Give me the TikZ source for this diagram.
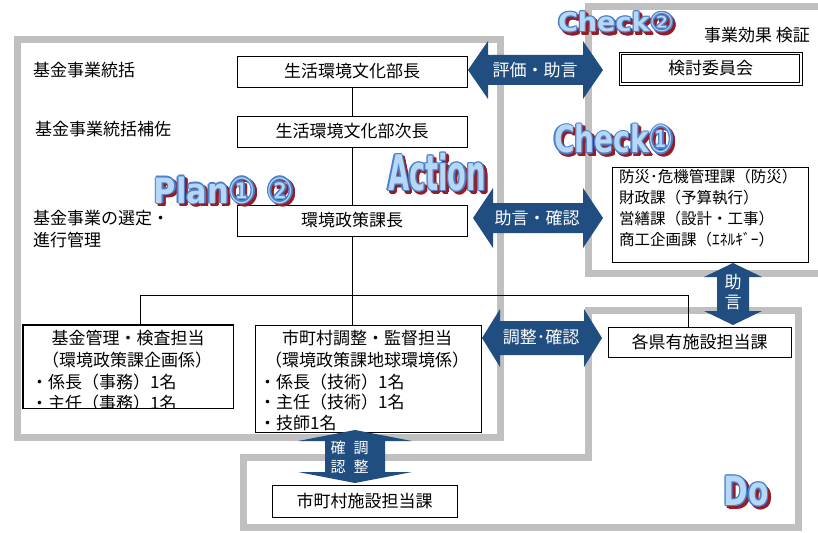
\documentclass[tikz,border=0pt]{standalone}
\usepackage{fontspec}
\usepackage{graphicx}
\setmainfont{Noto Sans CJK JP}
\newfontfamily\waf{DejaVu Sans}
\definecolor{framegray}{RGB}{192,192,192}
\definecolor{arrowblue}{RGB}{33,78,128}
\definecolor{wared}{RGB}{150,28,40}
\definecolor{wablue}{RGB}{74,128,204}
\definecolor{walight}{RGB}{182,216,245}
\newcommand\jpA{\fontsize{17pt}{20pt}\selectfont}
\newcommand\jpB{\fontsize{15.5pt}{19pt}\selectfont}
\newcommand\jpC{\fontsize{15pt}{18pt}\selectfont}
% horizontal double block arrow: x1, x2, y, shaft half, head half, head length
\newcommand\harrow[6]{%
  \fill[arrowblue] (#1,#3) -- (#1+#6,#3-#5) -- (#1+#6,#3-#4) -- (#2-#6,#3-#4) -- (#2-#6,#3-#5) -- (#2,#3)
   -- (#2-#6,#3+#5) -- (#2-#6,#3+#4) -- (#1+#6,#3+#4) -- (#1+#6,#3+#5) -- cycle;}
% vertical double block arrow: y1, y2, x, shaft half, head half, head length
\newcommand\varrow[6]{%
  \fill[arrowblue] (#3,#1) -- (#3+#5,#1+#6) -- (#3+#4,#1+#6) -- (#3+#4,#2-#6) -- (#3+#5,#2-#6) -- (#3,#2)
   -- (#3-#5,#2-#6) -- (#3-#4,#2-#6) -- (#3-#4,#1+#6) -- (#3-#5,#1+#6) -- cycle;}
% word art label: name, x, y, width, height, text
\newcommand\wordart[6]{%
  \foreach \dx/\dy [count=\i] in {-1.3/0,1.3/0,0/-1.3,0/1.3,-0.9/-0.9,0.9/0.9,-0.9/0.9,0.9/-0.9,0/0}{
    \node[wa, text=wared] (#1s\i) at (#2+\dx+2.6,#3+\dy+2.6) {\resizebox*{#4pt}{#5pt}{#6}};}
  \foreach \dx/\dy [count=\i] in {-1.3/0,1.3/0,0/-1.3,0/1.3,-0.9/-0.9,0.9/0.9,-0.9/0.9,0.9/-0.9}{
    \node[wa, text=wablue] (#1o\i) at (#2+\dx,#3+\dy) {\resizebox*{#4pt}{#5pt}{#6}};}
  \node[wa, text=walight] (#1) at (#2,#3) {\resizebox*{#4pt}{#5pt}{#6}};}
\begin{document}
\begin{tikzpicture}[x=1pt,y=-1pt,
  frame/.style={draw=framegray, line width=7pt},
  box/.style={draw, line width=0.8pt, fill=white, inner sep=0pt},
  conn/.style={draw, line width=0.8pt},
  txt/.style={inner sep=0pt, font=\jpA},
  ltxt/.style={inner sep=0pt, font=\jpA, anchor=west},
  ctxt/.style={inner sep=0pt, font=\jpB, anchor=west},
  atxt/.style={inner sep=0pt, font=\jpA, text=white},
  vtxt/.style={inner sep=0pt, font=\jpC, text=white},
  wa/.style={inner sep=0pt, font=\waf\bfseries}]
\useasboundingbox (0,0) rectangle (818,532);
\fill[white] (0,0) rectangle (818,532);

% frames
\draw[frame] (17,40) rectangle (500,437);
\draw[frame] (824,7) -- (588,7) -- (588,273) -- (824,273);
\draw[frame] (588,310) -- (798,310) -- (798,527) -- (243,527) -- (243,457) -- (588,457) -- cycle;

% left labels
\node[ltxt] (l1) at (33,70) {基金事業統括};
\node[ltxt] (l2) at (35,129) {基金事業統括補佐};
\node[ltxt] (l3) at (33,218) {基金事業の選定・};
\node[ltxt] (l4) at (33,240) {進行管理};
\node[txt] (l5) at (757,35) {事業効果 検証};

% main boxes
\node[box, minimum width=230pt, minimum height=31pt, font=\jpA] (bu) at (352,71.5) {生活環境文化部長};
\node[box, minimum width=230pt, minimum height=31pt, font=\jpA] (ji) at (352,131.5) {生活環境文化部次長};
\node[box, minimum width=230pt, minimum height=31pt, font=\jpA] (kc) at (352,220.5) {環境政策課長};
\node[box, minimum width=183pt, minimum height=33pt, font=\jpA] (iin) at (710.5,68.5) {検討委員会};
\draw[line width=0.8pt] ([xshift=2.8pt,yshift=2.8pt]iin.south west) rectangle ([xshift=-2.8pt,yshift=-2.8pt]iin.north east);
\node[box, minimum width=196pt, minimum height=95pt] (chk) at (710,214.5) {};
\node[ctxt] (c1) at (619,177) {防災･危機管理課（防災）};
\node[ctxt] (c2) at (619,198) {財政課（予算執行）};
\node[ctxt] (c3) at (619,219) {営繕課（設計・工事）};
\node[ctxt] (c4) at (619,240) {商工企画課（ｴﾈﾙｷﾞｰ）};
\node[box, minimum width=183pt, minimum height=30pt, font=\jpA] (ken) at (699.5,342) {各県有施設担当課};
\node[box, minimum width=185pt, minimum height=32pt, font=\jpA] (shi) at (364.5,501) {市町村施設担当課};

% left box
\node[box, minimum width=210pt, minimum height=83pt] (lb) at (128,366.5) {};
\begin{scope}
\clip (lb.south west) rectangle (lb.north east);
\node[txt] (lb1) at (128,338) {基金管理・検査担当};
\node[txt] (lb2) at (127,360) {（環境政策課企画係）};
\node[ltxt] (lb3) at (31,382) {・係長（事務）1名};
\node[ltxt] (lb4) at (31,403.5) {・主任（事務）1名};
\end{scope}
\draw[line width=0.8pt] (lb.south west) rectangle (lb.north east);

% middle box
\node[box, minimum width=226pt, minimum height=107pt] (mb) at (368,378.5) {};
\node[txt] (mb1) at (367,338) {市町村調整・監督担当};
\node[txt] (mb2) at (367,360) {（環境政策課地球環境係）};
\node[ltxt] (mb3) at (259,382) {・係長（技術）1名};
\node[ltxt] (mb4) at (259,402) {・主任（技術）1名};
\node[ltxt] (mb5) at (259,423) {・技師1名};

% connectors
\draw[conn] (bu) -- (ji);
\draw[conn] (ji) -- (kc);
\draw[conn] (kc.south) -- (kc.south |- mb.north);
\coordinate (jl) at (140,295);
\coordinate (jr) at (688,295);
\draw[conn] (jl |- lb.north) -- (jl) -- (jr) -- (jr |- ken.north);

% block arrows
\harrow{468}{603}{70}{15}{29}{20}
\harrow{473}{603}{218}{15}{30}{20}
\harrow{482}{602}{338}{17}{29}{18}
\varrow{263}{325}{733}{16}{29}{14}
\varrow{430}{483}{355}{30}{57}{11}

% arrow labels
\node[atxt] (a1) at (535,70) {評価・助言};
\node[atxt] (a2) at (537,218) {助言・確認};
\node[atxt] (a3) at (541,337) {調整･確認};
\node[atxt] (a4) at (733,282) {助};
\node[atxt] (a5) at (733,302) {言};
\node[vtxt] (a6) at (338,448) {確};
\node[vtxt] (a7) at (361,448) {調};
\node[vtxt] (a8) at (338,467) {認};
\node[vtxt] (a9) at (361,467) {整};

% word art labels
\wordart{plan}{224}{190}{140}{27}{Plan{\mdseries ①} {\mdseries ②}}
\wordart{act}{437}{172}{98}{38}{Action}
\wordart{cktwo}{616}{22}{116}{20}{Check{\mdseries ②}}
\wordart{ckone}{614}{139}{120}{29}{Check{\mdseries ①}}
\wordart{do}{746}{491}{45}{30}{Do}
\end{tikzpicture}
\end{document}
